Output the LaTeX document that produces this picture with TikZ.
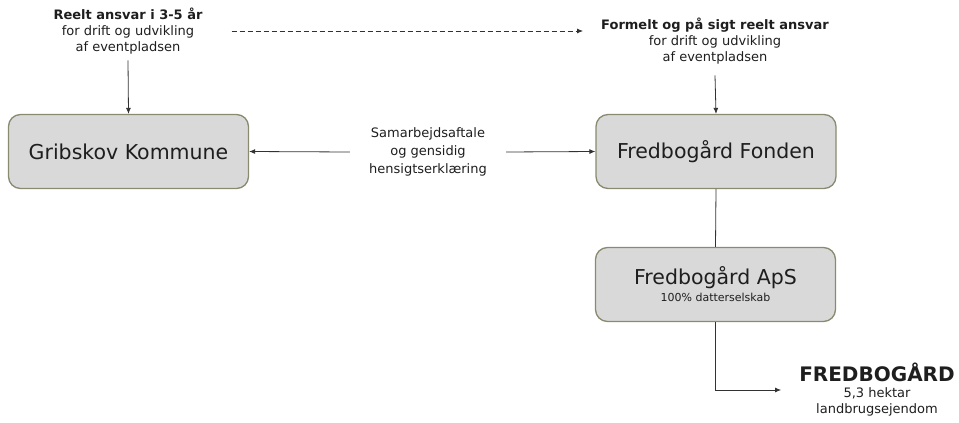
\documentclass[tikz,border=0pt]{standalone}
\usepackage{fontspec}
\setmainfont{DejaVu Sans}
\usepackage{xcolor}
\usetikzlibrary{arrows.meta,positioning}
\definecolor{boksfyld}{RGB}{217,217,217}
\definecolor{boksrand}{RGB}{138,138,112}
\definecolor{tekst}{RGB}{30,30,30}
\definecolor{streg}{RGB}{50,50,50}

\begin{document}
\begin{tikzpicture}[x=1pt,y=-1pt,
  boks/.style={draw=boksrand,line width=1.3pt,fill=boksfyld,rounded corners=12pt,
    minimum width=240pt,minimum height=74pt,align=center,text=tekst,
    font=\fontsize{20.5}{22}\selectfont},
  lille/.style={align=center,text=tekst,font=\fontsize{13}{16}\selectfont},
  pil/.style={draw=streg,line width=0.8pt,-{Latex[length=6pt,width=5pt]}},
  linje/.style={draw=streg,line width=0.8pt}]
\useasboundingbox (0,0) rectangle (959,423);

\node[lille,inner xsep=29pt,inner ysep=6pt] (reelt) at (128,31)
  {\textbf{Reelt ansvar i 3-5 år}\\for drift og udvikling\\af eventpladsen};
\node[lille,inner xsep=18pt,inner ysep=11pt] (formelt) at (715,41)
  {\textbf{Formelt og på sigt reelt ansvar}\\for drift og udvikling\\af eventpladsen};

\node[boks] (gribskov) at (128.5,151.5) {Gribskov Kommune};
\node[boks] (fonden) at (716,151.5) {Fredbogård Fonden};
\node[lille,inner xsep=19pt,font=\fontsize{13}{18}\selectfont] (aftale) at (428,152)
  {Samarbejdsaftale\\og gensidig\\hensigtserklæring};

\node[boks] (aps) at (715.5,284.5)
  {Fredbogård ApS\\[-5pt]{\fontsize{11}{14}\selectfont 100\% datterselskab}};

\node[lille,inner xsep=18pt] (gaard) at (877,390)
  {{\fontsize{20}{20}\selectfont\bfseries FREDBOGÅRD}\\5,3 hektar\\landbrugsejendom};

\draw[pil,dash pattern=on 5pt off 3pt] (reelt.east) -- (reelt.east -| formelt.west);
\draw[pil] (reelt.south) -- (gribskov.north);
\draw[pil] (formelt.south) -- (fonden.north);
\draw[pil] (aftale.west) -- (gribskov.east);
\draw[pil] (aftale.east) -- (fonden.west);
\draw[linje] (fonden.south) -- (aps.north);
\draw[pil] (aps.south) |- (gaard.west);
\end{tikzpicture}
\end{document}
